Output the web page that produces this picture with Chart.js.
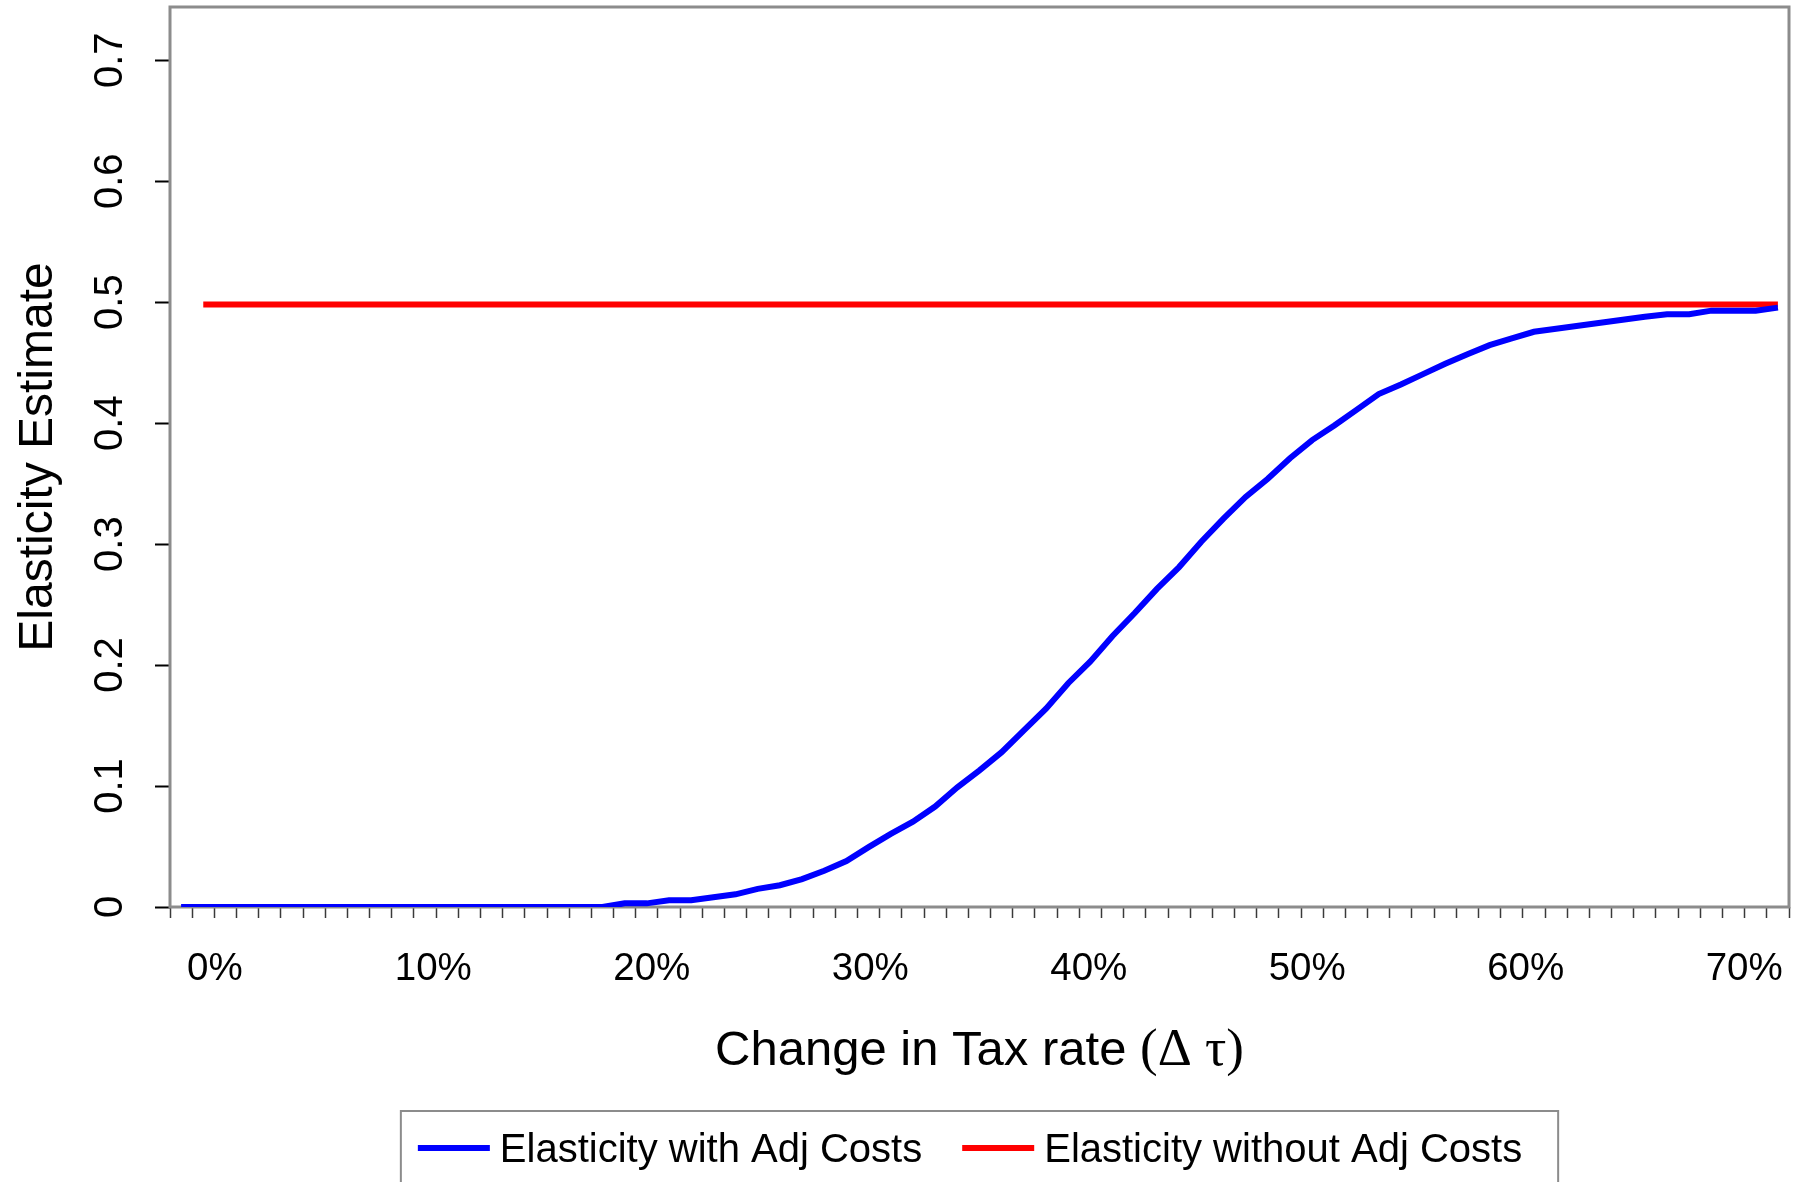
<!DOCTYPE html>
<html>
<head>
<meta charset="utf-8">
<script src="https://cdn.jsdelivr.net/npm/chart.js@4.4.1/dist/chart.umd.min.js"></script>
<style>
  html, body { margin: 0; padding: 0; background: #ffffff; }
  canvas { display: block; }
</style>
</head>
<body>
<canvas id="chart" width="1800" height="1182"></canvas>
<script>
// Change in the tax rate, in percentage points (one category per point)
const taxChange = [
  -1, 0, 1, 2, 3, 4, 5, 6, 7, 8, 9,
  10, 11, 12, 13, 14, 15, 16, 17, 18, 19,
  20, 21, 22, 23, 24, 25, 26, 27, 28, 29,
  30, 31, 32, 33, 34, 35, 36, 37, 38, 39,
  40, 41, 42, 43, 44, 45, 46, 47, 48, 49,
  50, 51, 52, 53, 54, 55, 56, 57, 58, 59,
  60, 61, 62, 63, 64, 65, 66, 67, 68, 69,
  70, 71
];

// Estimated elasticity when adjustment costs are present
const elasticityWithAdj = [
  0, 0, 0, 0, 0, 0, 0, 0, 0, 0, 0,
  0, 0, 0, 0, 0, 0, 0, 0, 0, 0.003,
  0.003, 0.0055, 0.0055, 0.008, 0.0105, 0.015, 0.018, 0.023, 0.030, 0.038,
  0.0495, 0.0605, 0.0705, 0.083, 0.099, 0.113, 0.128, 0.146, 0.164, 0.185,
  0.203, 0.224, 0.243, 0.263, 0.281, 0.302, 0.321, 0.339, 0.354, 0.371,
  0.386, 0.398, 0.411, 0.424, 0.432, 0.4405, 0.449, 0.457, 0.4645, 0.470,
  0.4755, 0.478, 0.4805, 0.483, 0.4855, 0.488, 0.490, 0.490, 0.493, 0.493,
  0.493, 0.4955
];

// Estimated elasticity without adjustment costs (the structural value)
const elasticityWithoutAdj = [
  null, 0.498, 0.498, 0.498, 0.498, 0.498, 0.498, 0.498, 0.498, 0.498, 0.498,
  0.498, 0.498, 0.498, 0.498, 0.498, 0.498, 0.498, 0.498, 0.498, 0.498,
  0.498, 0.498, 0.498, 0.498, 0.498, 0.498, 0.498, 0.498, 0.498, 0.498,
  0.498, 0.498, 0.498, 0.498, 0.498, 0.498, 0.498, 0.498, 0.498, 0.498,
  0.498, 0.498, 0.498, 0.498, 0.498, 0.498, 0.498, 0.498, 0.498, 0.498,
  0.498, 0.498, 0.498, 0.498, 0.498, 0.498, 0.498, 0.498, 0.498, 0.498,
  0.498, 0.498, 0.498, 0.498, 0.498, 0.498, 0.498, 0.498, 0.498, 0.498,
  0.498, 0.498
];

const yTickValues = [0, 0.1, 0.2, 0.3, 0.4, 0.5, 0.6, 0.7];
const yTickLabels = ['0', '0.1', '0.2', '0.3', '0.4', '0.5', '0.6', '0.7'];
const xLabelValues = [0, 10, 20, 30, 40, 50, 60, 70];
const xLabelTexts = ['0%', '10%', '20%', '30%', '40%', '50%', '60%', '70%'];

const seriesNames = ['Elasticity with Adj Costs', 'Elasticity without Adj Costs'];
const seriesColors = ['#0000ff', '#ff0000'];

const yTitleText = 'Elasticity Estimate';
const xTitleText = 'Change in Tax rate ';
const xTitleSymbols = '(\u0394 \u03c4)';

const SANS = "'Liberation Sans', Arial, Helvetica, sans-serif";
const SERIF = "'Liberation Serif', 'Times New Roman', serif";
const FRAME_COLOR = '#8c8c8c';

Chart.defaults.font.family = SANS;
Chart.defaults.color = '#000000';

// white page, grey plot frame drawn under the lines
const framePlugin = {
  id: 'plotFrame',
  beforeDraw(chart) {
    const ctx = chart.ctx;
    ctx.save();
    ctx.fillStyle = '#ffffff';
    ctx.fillRect(0, 0, chart.width, chart.height);
    ctx.restore();
  },
  beforeDatasetsDraw(chart) {
    const { ctx, chartArea: a } = chart;
    ctx.save();
    ctx.strokeStyle = FRAME_COLOR;
    ctx.lineWidth = 3;
    ctx.strokeRect(a.left, a.top, a.right - a.left, a.bottom - a.top);
    ctx.restore();
  }
};

// x-axis title with the Greek symbols set in a serif face
const xTitlePlugin = {
  id: 'xTitle',
  afterDraw(chart) {
    const { ctx, chartArea: a } = chart;
    ctx.save();
    ctx.fillStyle = '#000000';
    ctx.textBaseline = 'alphabetic';
    ctx.textAlign = 'left';
    ctx.font = '49px ' + SANS;
    const w1 = ctx.measureText(xTitleText).width;
    ctx.font = '53px ' + SERIF;
    const w2 = ctx.measureText(xTitleSymbols).width;
    const x0 = (a.left + a.right) / 2 - (w1 + w2) / 2;
    const y = a.bottom + 158;
    ctx.font = '49px ' + SANS;
    ctx.fillText(xTitleText, x0, y);
    ctx.font = '53px ' + SERIF;
    ctx.fillText(xTitleSymbols, x0 + w1, y);
    ctx.restore();
  }
};

// boxed legend below the axis title
const boxedLegendPlugin = {
  id: 'boxedLegend',
  afterDraw(chart) {
    const { ctx, chartArea: a } = chart;
    const sets = chart.data.datasets;
    const lineLen = 72, gapText = 10, gapItem = 40, padLeft = 17, padRight = 36;
    ctx.save();
    ctx.font = '40px ' + SANS;
    const widths = sets.map(d => ctx.measureText(d.label).width);
    let total = 0;
    widths.forEach((w, i) => { total += lineLen + gapText + w + (i < widths.length - 1 ? gapItem : 0); });
    const boxW = total + padLeft + padRight;
    const boxLeft = (a.left + a.right) / 2 - boxW / 2;
    const boxTop = a.bottom + 204;
    ctx.strokeStyle = FRAME_COLOR;
    ctx.lineWidth = 2;
    ctx.strokeRect(boxLeft, boxTop, boxW, chart.height - boxTop + 20);
    let x = boxLeft + padLeft;
    const lineY = a.bottom + 241;
    const baseY = a.bottom + 255;
    sets.forEach((d, i) => {
      ctx.strokeStyle = d.borderColor;
      ctx.lineWidth = 6;
      ctx.beginPath();
      ctx.moveTo(x, lineY);
      ctx.lineTo(x + lineLen, lineY);
      ctx.stroke();
      x += lineLen + gapText;
      ctx.fillStyle = '#000000';
      ctx.textBaseline = 'alphabetic';
      ctx.textAlign = 'left';
      ctx.fillText(d.label, x, baseY);
      x += widths[i] + gapItem;
    });
    ctx.restore();
  }
};

new Chart(document.getElementById('chart'), {
  type: 'line',
  data: {
    labels: taxChange,
    datasets: [
      {
        label: seriesNames[0],
        data: elasticityWithAdj,
        xAxisID: 'x',
        yAxisID: 'y',
        borderColor: seriesColors[0],
        backgroundColor: seriesColors[0],
        borderWidth: 6,
        pointRadius: 0,
        tension: 0,
        fill: false
      },
      {
        label: seriesNames[1],
        data: elasticityWithoutAdj,
        xAxisID: 'x',
        yAxisID: 'y',
        borderColor: seriesColors[1],
        backgroundColor: seriesColors[1],
        borderWidth: 6,
        pointRadius: 0,
        tension: 0,
        fill: false
      }
    ]
  },
  options: {
    responsive: false,
    animation: false,
    devicePixelRatio: 1,
    layout: { padding: { left: 0, right: 11, top: 7, bottom: 165 } },
    plugins: {
      legend: { display: false },
      title: { display: false },
      tooltip: { enabled: false }
    },
    scales: {
      // category axis: one band per point, small tick marks between bands
      x: {
        type: 'category',
        position: 'bottom',
        offset: true,
        grid: {
          offset: true,
          drawOnChartArea: false,
          drawTicks: true,
          tickLength: 11,
          tickColor: '#3a3a3a',
          tickWidth: 1.5
        },
        border: { display: false },
        ticks: { display: false, autoSkip: false },
        afterFit(scale) {
          scale.height = 11;
          scale.paddingLeft = 0;
          scale.paddingRight = 0;
        }
      },
      // percentage labels every ten points
      xLabels: {
        type: 'linear',
        position: 'bottom',
        min: -2.05,
        max: 72.05,
        afterBuildTicks(scale) {
          scale.ticks = xLabelValues.map(v => ({ value: v }));
        },
        grid: { display: false, drawTicks: false, drawOnChartArea: false },
        border: { display: false },
        ticks: {
          autoSkip: false,
          minRotation: 0,
          maxRotation: 0,
          padding: 28,
          font: { size: 38.5 },
          color: '#000000',
          callback(value) {
            const pos = xLabelValues.indexOf(value);
            return pos >= 0 ? xLabelTexts[pos] : '';
          }
        },
        afterFit(scale) {
          scale.height = 99;
          scale.paddingLeft = 0;
          scale.paddingRight = 0;
        }
      },
      y: {
        type: 'linear',
        min: 0,
        max: 0.744,
        afterBuildTicks(scale) {
          scale.ticks = yTickValues.map(v => ({ value: v }));
        },
        grid: {
          drawOnChartArea: false,
          drawTicks: true,
          tickLength: 15,
          tickColor: '#000000',
          tickWidth: 2
        },
        border: { display: false },
        ticks: {
          minRotation: 90,
          maxRotation: 90,
          crossAlign: 'center',
          padding: 16,
          font: { size: 40 },
          color: '#000000',
          callback(value) {
            const pos = yTickValues.findIndex(v => Math.abs(v - value) < 1e-9);
            return pos >= 0 ? yTickLabels[pos] : '';
          }
        },
        title: {
          display: true,
          text: yTitleText,
          font: { size: 48 },
          color: '#000000',
          padding: { top: 9.5, bottom: 0 }
        },
        afterFit(scale) {
          scale.width = 170;
          scale.paddingTop = 0;
          scale.paddingBottom = 0;
        }
      }
    }
  },
  plugins: [framePlugin, xTitlePlugin, boxedLegendPlugin]
});
</script>
</body>
</html>
